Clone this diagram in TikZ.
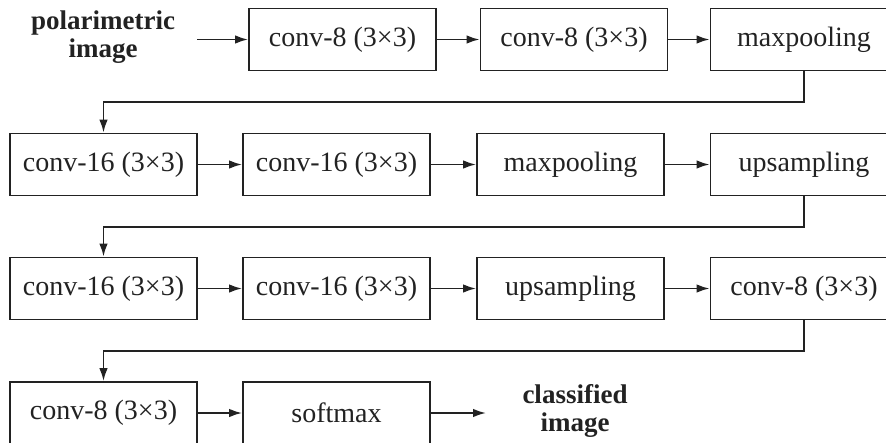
\documentclass[tikz,border=0pt]{standalone}
\usepackage{fontspec}
\setmainfont{Liberation Serif}
\usetikzlibrary{arrows.meta}
\definecolor{ink}{HTML}{222222}
\tikzset{
  box/.style={draw=ink, line width=1.8pt, minimum width=187pt, minimum height=62pt,
    inner sep=0pt, font=\fontsize{28}{32}\selectfont, text=ink},
  lbl/.style={font=\fontsize{27}{28}\selectfont\bfseries, text=ink, align=center, inner sep=0pt},
  arr/.style={draw=ink, line width=1.8pt, -{Latex[length=13pt,width=8.5pt]}}
}
\begin{document}
\begin{tikzpicture}[x=1pt,y=-1pt]
\useasboundingbox (0,0) rectangle (886,442);
\clip (0,0) rectangle (886,442);
% row 1
\node[lbl] (in) at (103,37) {polarimetric\\image};
\node[box] (a1) at (342.5,39.5) {conv-8 (3×3)};
\node[box] (a2) at (574,39.5) {conv-8 (3×3)};
\node[box] (a3) at (804,39.5) {maxpooling};
% row 2
\node[box] (b1) at (103.5,164.5) {conv-16 (3×3)};
\node[box] (b2) at (336.5,164.5) {conv-16 (3×3)};
\node[box] (b3) at (570.5,164.5) {maxpooling};
\node[box] (b4) at (804,164.5) {upsampling};
% row 3
\node[box] (c1) at (103.5,288.5) {conv-16 (3×3)};
\node[box] (c2) at (336.5,288.5) {conv-16 (3×3)};
\node[box] (c3) at (570.5,288.5) {upsampling};
\node[box] (c4) at (804,288.5) {conv-8 (3×3)};
% row 4
\node[box] (d1) at (103.5,413) {conv-8 (3×3)};
\node[box] (d2) at (336.5,413) {softmax};
\node[lbl] (out) at (575,411) {classified\\image};
% joints
\coordinate (j1) at (0,102);
\coordinate (j2) at (0,227);
\coordinate (j3) at (0,351);
\coordinate (inend) at (197,39.5);
\coordinate (outend) at (486,413);
% connectors
\draw[arr] (inend) -- (a1.west);
\draw[arr] (a1) -- (a2);
\draw[arr] (a2) -- (a3);
\draw[arr] (a3.south) |- (j1 -| b1.north) -- (b1.north);
\draw[arr] (b1) -- (b2);
\draw[arr] (b2) -- (b3);
\draw[arr] (b3) -- (b4);
\draw[arr] (b4.south) |- (j2 -| c1.north) -- (c1.north);
\draw[arr] (c1) -- (c2);
\draw[arr] (c2) -- (c3);
\draw[arr] (c3) -- (c4);
\draw[arr] (c4.south) |- (j3 -| d1.north) -- (d1.north);
\draw[arr] (d1) -- (d2);
\draw[arr] (d2.east) -- (outend);
\end{tikzpicture}
\end{document}
